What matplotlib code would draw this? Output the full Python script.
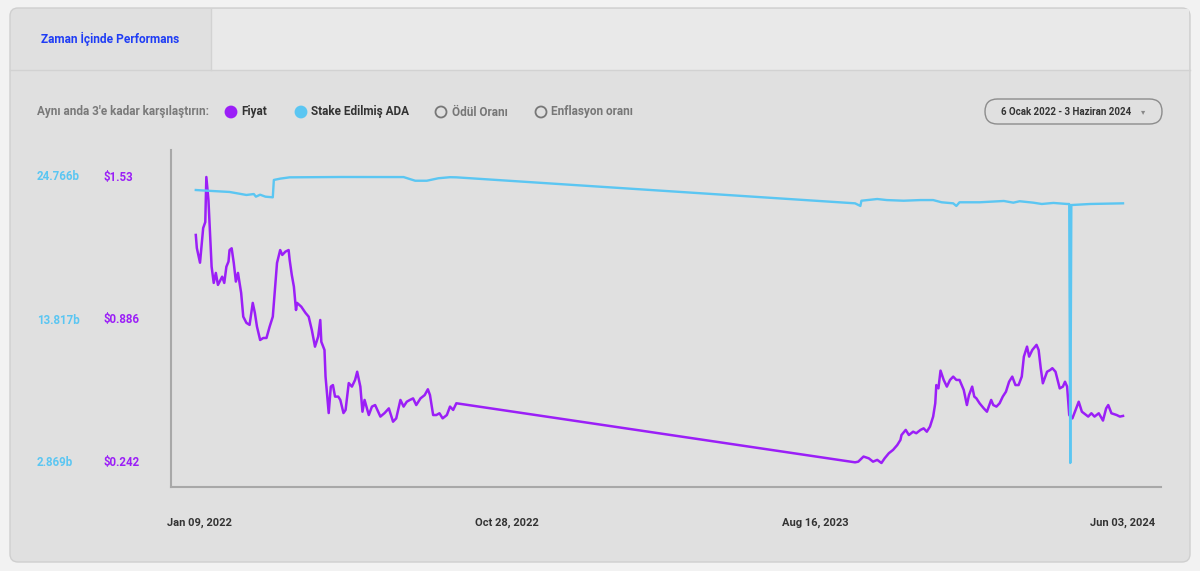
import matplotlib
matplotlib.use("Agg")
import matplotlib.pyplot as plt
from matplotlib.patches import FancyBboxPatch, Ellipse, Rectangle
from matplotlib.transforms import IdentityTransform, blended_transform_factory
import pandas as pd

# --- data ---
start = pd.Timestamp("2022-01-06")

price_days = [0, 1, 4, 6, 7, 9, 10, 12, 13, 15, 17, 19, 21, 25, 27, 29, 31, 32, 34, 36,
              38, 40, 43, 45, 48, 51, 54, 56, 58, 61, 64, 67, 70, 73, 75, 77, 80, 82, 85, 88,
              89, 91, 93, 95, 96, 100, 104, 107, 110, 113, 116, 118, 119, 122, 123, 126, 128, 130, 132, 135,
              137, 140, 142, 145, 148, 151, 153, 156, 158, 160, 164, 167, 170, 175, 179, 183, 187, 190, 194, 197,
              200, 203, 206, 209, 213, 217, 220, 222, 225, 228, 231, 234, 238, 241, 244, 247,
              625, 628, 633, 638, 642, 646, 650, 653, 657, 661, 665, 668, 669, 673, 676, 680, 683, 687, 690, 693,
              696, 699, 701, 702, 704, 706, 709, 712, 715, 718, 721, 724, 728, 731, 733, 736, 738, 740, 743, 747,
              750, 754, 756, 759, 762, 765, 768, 771, 774, 777, 780, 783, 785, 788, 790, 793, 797, 799, 801, 803,
              807, 810, 812, 815, 817, 819, 822, 824, 826, 828, 831, 834, 837, 840, 844, 846, 849, 852, 856, 860,
              863, 865, 868, 873, 876, 879]
price_usd = [1.269, 1.210, 1.144, 1.246, 1.300, 1.327, 1.530, 1.426, 1.323, 1.126, 1.053, 1.098, 1.044, 1.081, 1.053, 1.126, 1.149, 1.201, 1.209, 1.143,
             1.059, 1.098, 1.008, 0.901, 0.873, 0.864, 0.963, 0.918, 0.856, 0.796, 0.805, 0.805, 0.856, 0.901, 1.021, 1.143, 1.201, 1.179, 1.194, 1.201,
             1.156, 1.089, 1.036, 0.931, 0.963, 0.946, 0.918, 0.901, 0.841, 0.766, 0.811, 0.886, 0.788, 0.751, 0.631, 0.467, 0.586, 0.593, 0.541, 0.541,
             0.526, 0.467, 0.481, 0.602, 0.586, 0.616, 0.653, 0.586, 0.473, 0.526, 0.458, 0.496, 0.503, 0.451, 0.467, 0.488, 0.428, 0.443, 0.526, 0.496,
             0.518, 0.526, 0.533, 0.503, 0.533, 0.548, 0.574, 0.548, 0.458, 0.458, 0.466, 0.443, 0.458, 0.496, 0.481, 0.511,
             0.245, 0.248, 0.271, 0.263, 0.248, 0.256, 0.242, 0.263, 0.286, 0.301, 0.323, 0.346, 0.368, 0.391, 0.368, 0.383, 0.376, 0.391, 0.398, 0.383,
             0.406, 0.451, 0.511, 0.593, 0.578, 0.658, 0.616, 0.586, 0.616, 0.631, 0.616, 0.616, 0.571, 0.503, 0.548, 0.586, 0.541, 0.533, 0.511, 0.488,
             0.473, 0.526, 0.503, 0.496, 0.511, 0.541, 0.563, 0.608, 0.631, 0.593, 0.593, 0.631, 0.721, 0.766, 0.721, 0.751, 0.774, 0.751, 0.669, 0.601,
             0.653, 0.661, 0.669, 0.653, 0.616, 0.578, 0.586, 0.608, 0.586, 0.458, 0.443, 0.481, 0.518, 0.473, 0.458, 0.451, 0.466, 0.451, 0.466, 0.433,
             0.488, 0.503, 0.466, 0.458, 0.451, 0.454]

stake_days = [0, 10, 32, 48, 55, 57, 61, 66, 73, 74, 80, 89, 138, 197, 208, 219, 230, 241, 247,
              625, 630, 631, 646, 655, 671, 687, 699, 707, 718, 721, 724, 743, 766, 775, 781, 794, 802, 813, 826,
              828, 829, 830, 848, 879]
stake_bn = [23.77, 23.72, 23.62, 23.39, 23.46, 23.26, 23.41, 23.26, 23.21, 24.54, 24.64, 24.74, 24.766, 24.76, 24.48, 24.48, 24.67, 24.75, 24.74,
            22.75, 22.55, 22.95, 23.08, 23.00, 22.95, 23.00, 23.00, 22.83, 22.75, 22.55, 22.83, 22.83, 22.93, 22.80, 22.91, 22.80, 22.70, 22.78, 22.70,
            22.70, 2.869, 22.62, 22.70, 22.75]

price_ticks = [1.53, 0.886, 0.242]
price_labels = ["$1.53", "$0.886", "$0.242"]
stake_ticks = [24.766, 13.817, 2.869]
stake_labels = ["24.766b", "13.817b", "2.869b"]
x_ticks = ["2022-01-09", "2022-10-28", "2023-08-16", "2024-06-03"]
x_labels = ["Jan 09, 2022", "Oct 28, 2022", "Aug 16, 2023", "Jun 03, 2024"]

legend_names = ["Fiyat", "Stake Edilmiş ADA", "Ödül Oranı", "Enflasyon oranı"]

PURPLE = "#9b1ff7"
BLUE = "#5bc6f2"
W, H = 1200, 571

plt.rcParams['font.family'] = ['Roboto', 'DejaVu Sans']
NARROW = ['Liberation Sans Narrow', 'Roboto', 'DejaVu Sans']

fig = plt.figure(figsize=(12, 5.71), dpi=100, facecolor="#f2f2f2")


def fx(x):
    return x / W


def fy(y):
    return 1 - y / H


def box(x0, y0, x1, y1, r, fc, ec, lw=1.0, z=0):
    p = FancyBboxPatch((x0, H - y1), x1 - x0, y1 - y0,
                       boxstyle=f"round,pad=0,rounding_size={r}",
                       transform=IdentityTransform(), facecolor=fc, edgecolor=ec,
                       linewidth=lw, zorder=z)
    fig.add_artist(p)


# panel, header and tab
box(10, 8, 1190, 562, 8, "#e0e0e0", "#cfcfcf", 1.0, -5)
fig.add_artist(Rectangle((fx(211), fy(70)), fx(1189) - fx(211), fy(9) - fy(70),
                         transform=fig.transFigure, facecolor="#e9e9e9", edgecolor="none", zorder=-4))
fig.add_artist(plt.Line2D([fx(10), fx(1190)], [fy(70), fy(70)], transform=fig.transFigure,
                          color="#d2d2d2", lw=1, zorder=-3))
fig.add_artist(plt.Line2D([fx(211), fx(211)], [fy(9), fy(70)], transform=fig.transFigure,
                          color="#d2d2d2", lw=1, zorder=-3))
fig.text(fx(41), fy(39), "Zaman İçinde Performans", color="#1f3df5", fontsize=8.6,
         fontweight="bold", va="center", ha="left")

# legend row
ly = fy(112)
fig.text(fx(37), ly, "Aynı anda 3'e kadar karşılaştırın:", color="#7a7a7a", fontsize=8.5,
         fontweight="bold", va="center", ha="left", family=NARROW)
dots = [(231, PURPLE, PURPLE), (301, BLUE, BLUE), (441, "none", "#777777"), (541, "none", "#777777")]
text_x = [241, 311, 452, 551]
for (cx, fc, ec), tx, name, i in zip(dots, text_x, legend_names, range(4)):
    fig.add_artist(Ellipse((fx(cx), ly), 11 / W, 11 / H, transform=fig.transFigure,
                           facecolor=fc, edgecolor=ec, lw=1.3))
    fig.text(fx(tx), ly, name, color="#333333" if i < 2 else "#777777", fontsize=8.5,
             fontweight="bold", va="center", ha="left", family=NARROW)

# date range dropdown
box(985, 99, 1162, 124, 12.5, "#e0e0e0", "#8c8c8c", 1.0, 1)
fig.text(fx(1066), ly, "6 Ocak 2022 - 3 Haziran 2024", color="#333333", fontsize=7,
         fontweight="bold", va="center", ha="center", family=NARROW)
fig.text(fx(1143), ly, "▾", color="#888888", fontsize=6, va="center", ha="center",
         family=['DejaVu Sans'])

# chart
ax = fig.add_axes([fx(171), fy(487), fx(1161) - fx(171), fy(150) - fy(487)])
ax.patch.set_alpha(0)
ax2 = ax.twinx()

price_dates = start + pd.to_timedelta(price_days, unit="D")
stake_dates = start + pd.to_timedelta(stake_days, unit="D")

ax.plot(price_dates, price_usd, color=PURPLE, lw=1.8, solid_joinstyle="round")
ax2.plot(stake_dates, stake_bn, color=BLUE, lw=1.7, solid_joinstyle="round")

ax.set_xlim(start - pd.Timedelta(days=23.5), start + pd.Timedelta(days=915))
ax.set_ylim(0.1339, 1.6516)
ax2.set_ylim(1.031, 26.833)

for a in (ax, ax2):
    for s in a.spines.values():
        s.set_visible(False)
    a.set_yticks([])
ax.spines["left"].set_visible(True)
ax.spines["bottom"].set_visible(True)
ax.spines["left"].set_color("#a8a8a8")
ax.spines["bottom"].set_color("#a8a8a8")
ax.spines["left"].set_linewidth(1.5)
ax.spines["bottom"].set_linewidth(1.5)

ax.set_xticks(pd.to_datetime(x_ticks))
ax.set_xticklabels(x_labels, family=NARROW, fontsize=8, fontweight="bold", color="#333333")
ax.tick_params(axis="x", length=0, pad=22)

tp = blended_transform_factory(fig.transFigure, ax.transData)
for v, lab in zip(price_ticks, price_labels):
    fig.text(fx(104), v, lab, transform=tp, color=PURPLE, fontsize=8.3, fontweight="bold",
             va="center", ha="left")
ts = blended_transform_factory(fig.transFigure, ax2.transData)
for v, lab in zip(stake_ticks, stake_labels):
    fig.text(fx(37), v, lab, transform=ts, color=BLUE, fontsize=8.3, fontweight="bold",
             va="center", ha="left")

fig.savefig("out.png", dpi=100, facecolor=fig.get_facecolor())
